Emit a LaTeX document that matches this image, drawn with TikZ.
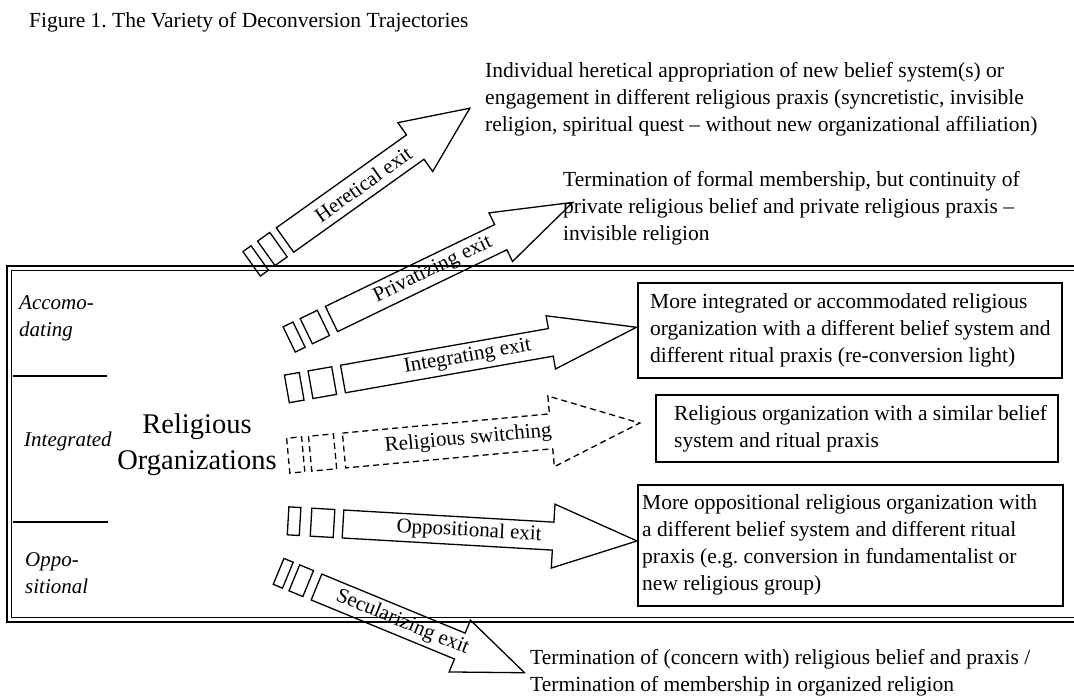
\documentclass[tikz,border=0pt]{standalone}
\usepackage{fontspec}
\setmainfont{Liberation Serif}
\frenchspacing
\tikzset{
  txt/.style={font=\fontsize{21.5}{27}\selectfont, inner sep=0pt, align=left},
  lbl/.style={font=\fontsize{21}{27}\selectfont\itshape, inner sep=0pt, align=left},
  bigtxt/.style={font=\fontsize{28.5}{36}\selectfont, inner sep=0pt, align=center},
  arrowtext/.style={font=\fontsize{21}{25}\selectfont, inner sep=0pt},
  blockline/.style={draw=black, line width=1.3pt, line join=miter},
  dashline/.style={dash pattern=on 6pt off 4pt},
  destbox/.style={draw=black, line width=1.6pt, inner sep=0pt},
  frameouter/.style={draw=black, line width=2.2pt},
  frameinner/.style={draw=black, line width=0.9pt},
  sepline/.style={draw=black, line width=1.4pt},
}
\tikzset{ba/.cd,
  len/.store in=\baLen, head/.store in=\baHead,
  sw/.store in=\baSW, hw/.store in=\baHW,
  ra/.store in=\baRa, ga/.store in=\baGa,
  rb/.store in=\baRb, gb/.store in=\baGb}
% #1 draw style, #2 geometry keys, #3 tail centre, #4 angle, #5 label, #6 node name
\newcommand{\blockarrow}[6][]{%
  \begin{scope}[shift={#3}, rotate=#4, transform shape]
    \pgfkeys{/tikz/ba/.cd,#2}%
    \pgfmathsetmacro\baS{\baLen-\baHead}%
    \pgfmathsetmacro\baA{\baSW/2}%
    \pgfmathsetmacro\baB{\baHW/2}%
    \pgfmathsetmacro\baP{-\baGb}%
    \pgfmathsetmacro\baQ{-\baGb-\baRb}%
    \pgfmathsetmacro\baR{-\baGb-\baRb-\baGa}%
    \pgfmathsetmacro\baT{-\baGb-\baRb-\baGa-\baRa}%
    \draw[blockline,#1] (0,-\baA) -- (\baS,-\baA) -- (\baS,-\baB) -- (\baLen,0)
      -- (\baS,\baB) -- (\baS,\baA) -- (0,\baA) -- cycle;
    \draw[blockline,#1] (\baQ,-\baA) rectangle (\baP,\baA);
    \draw[blockline,#1] (\baT,-\baA) rectangle (\baR,\baA);
    \node[arrowtext] (#6) at ({0.6*\baS},0) {#5};
  \end{scope}}
\begin{document}
\begin{tikzpicture}[x=1pt,y=-1pt]
\useasboundingbox (0,0) rectangle (1074,697);

% title
\node[txt, anchor=base west] (title) at (29,27) {Figure 1. The Variety of Deconversion Trajectories};

% frame (open to the right)
\draw[frameouter] (1074,266) -- (7,266) -- (7,622) -- (1074,622);
\draw[frameinner] (1074,270.5) -- (11.5,270.5) -- (11.5,617.5) -- (1074,617.5);

% left labels (base anchor = baseline of the last line)
\node[lbl, anchor=base west] (accom) at (19,336) {Accomo-\\dating};
\draw[sepline] (13,376) -- (107,376);
\node[lbl, anchor=base west] (integ) at (24,446) {Integrated};
\draw[sepline] (13,522) -- (108,522);
\node[lbl, anchor=base west] (oppo) at (25,593) {Oppo-\\sitional};

\node[bigtxt, anchor=base] (relorg) at (197,469) {Religious\\Organizations};

% arrows
\blockarrow{len=227,head=67,sw=30,hw=60,ra=10,ga=8,rb=15,gb=8}{(285,240)}{35.5}{Heretical exit}{heretical}
\blockarrow{len=268,head=80,sw=28,hw=54,ra=11,ga=8,rb=19,gb=9}{(331.5,319)}{25.8}{Privatizing exit}{privatizing}
\blockarrow{len=298,head=87,sw=28,hw=54,ra=15,ga=9,rb=24,gb=9}{(343,379)}{10}{Integrating exit}{integrating}
\blockarrow[dashline]{len=297,head=89,sw=35,hw=71,ra=15,ga=7,rb=25,gb=9}{(344,450.5)}{5.3}{Religious switching}{switching}
\blockarrow{len=294.5,head=84,sw=28,hw=64,ra=12,ga=11,rb=23,gb=9}{(343,524)}{-3.3}{Oppositional exit}{oppositional}
\blockarrow{len=225,head=70,sw=28,hw=56,ra=10,ga=7,rb=15,gb=9}{(316.5,587)}{-22.4}{Secularizing exit}{secularizing}

% outside texts (base anchor = baseline of the last line)
\node[txt, anchor=base west] (herettxt) at (485,131) {Individual heretical appropriation of new belief system(s) or\\engagement in different religious praxis (syncretistic, invisible\\religion, spiritual quest – without new organizational affiliation)};
\node[txt, anchor=base west] (privtxt) at (563,240) {Termination of formal membership, but continuity of\\private religious belief and private religious praxis –\\invisible religion};
\node[txt, anchor=base west] (sectxt) at (530,691) {Termination of (concern with) religious belief and praxis /\\Termination of membership in organized religion};

% destination boxes
\node[destbox, anchor=north west, minimum width=424pt, minimum height=95pt] (box1) at (637,282) {};
\node[txt, anchor=west] (box1t) at ([xshift=13pt]box1.west) {More integrated or accommodated religious\\organization with a different belief system and\\different ritual praxis (re-conversion light)};
\node[destbox, anchor=north west, minimum width=402pt, minimum height=67pt] (box2) at (655,394) {};
\node[txt, anchor=west] (box2t) at ([xshift=19pt]box2.west) {Religious organization with a similar belief\\system and ritual praxis};
\node[destbox, anchor=north west, minimum width=425pt, minimum height=121pt] (box3) at (637,484) {};
\node[txt, anchor=west] (box3t) at ([xshift=5pt]box3.west) {More oppositional religious organization with\\a different belief system and different ritual\\praxis (e.g. conversion in fundamentalist or\\new religious group)};
\end{tikzpicture}
\end{document}
